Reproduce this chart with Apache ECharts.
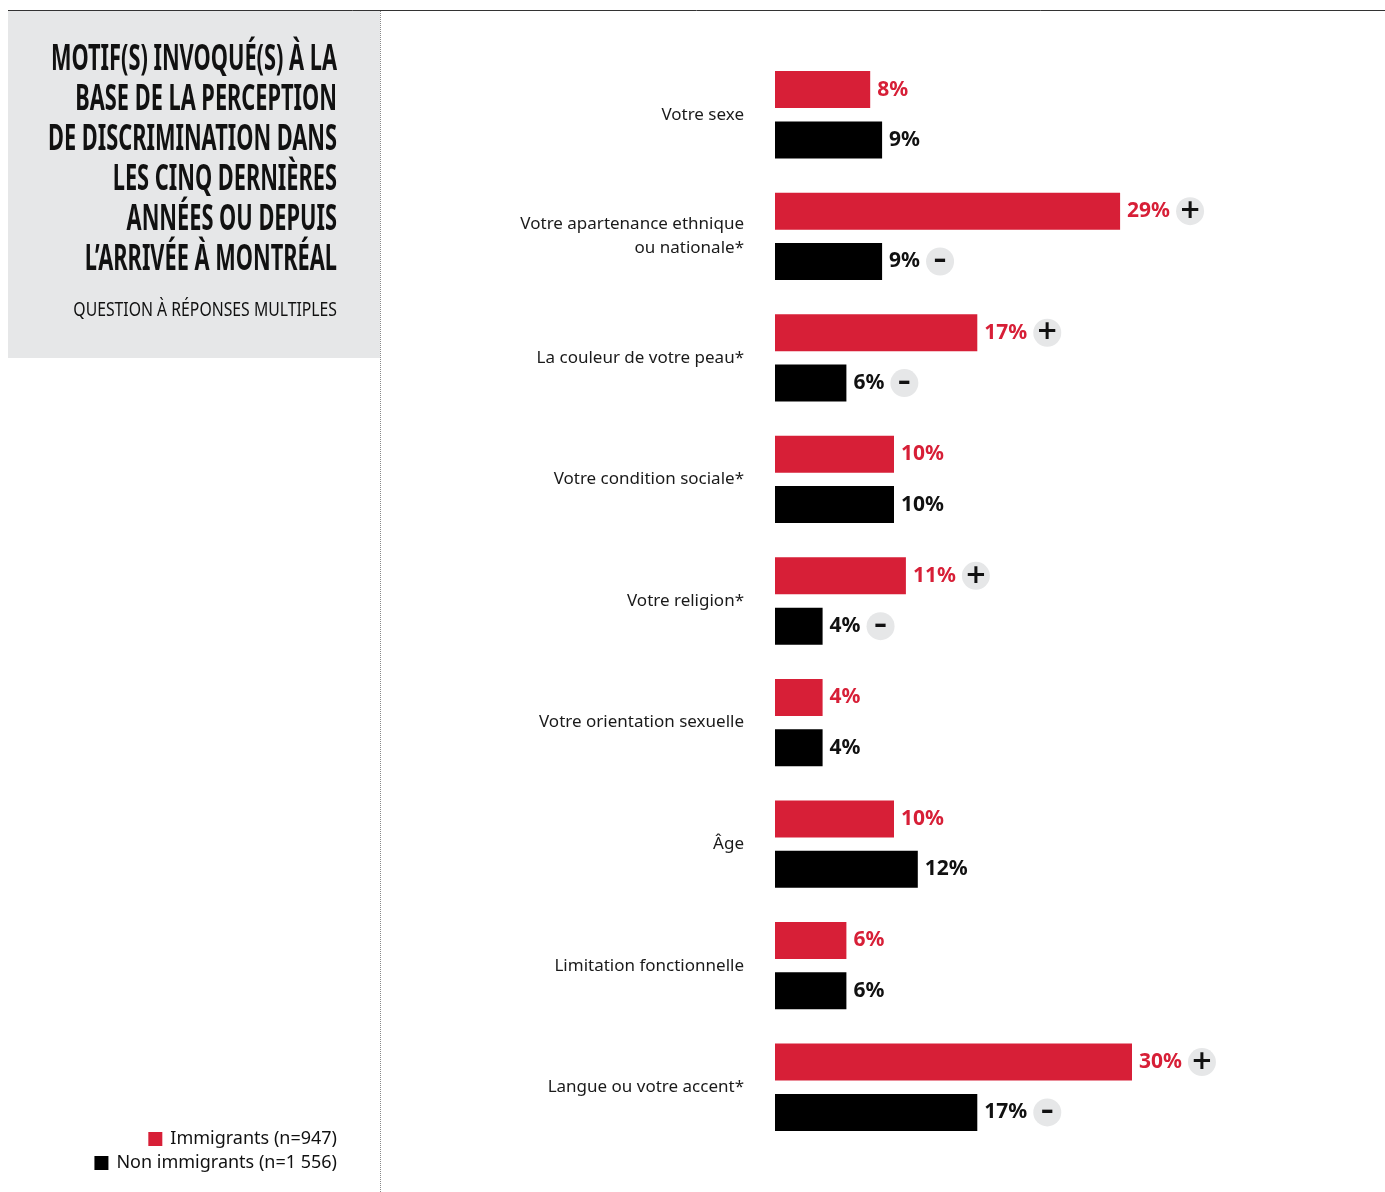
<!DOCTYPE html>
<html>
<head>
<meta charset="utf-8">
<script src="https://cdn.jsdelivr.net/npm/echarts@6/dist/echarts.min.js"></script>
<style>
  html, body { margin: 0; padding: 0; background: #fff; }
  #chart { width: 1385px; height: 1192px; }
</style>
</head>
<body>
<div id="chart"></div>
<script>
var categories = [
    'Votre sexe',
    'Votre apartenance ethnique\nou nationale*',
    'La couleur de votre peau*',
    'Votre condition sociale*',
    'Votre religion*',
    'Votre orientation sexuelle',
    'Âge',
    'Limitation fonctionnelle',
    'Langue ou votre accent*'
];
var immigrants = [8, 29, 17, 10, 11, 4, 10, 6, 30];
var nonImmigrants = [9, 9, 6, 10, 4, 4, 12, 6, 17];
// écart significatif (+ / -)
var immigrantsSig = ['', '+', '+', '', '+', '', '', '', '+'];
var nonImmigrantsSig = ['', '-', '-', '', '-', '', '', '', '-'];

var seriesNames = ['Immigrants (n=947)', 'Non immigrants (n=1 556)'];
var RED = '#d71f37';
var GREY = '#e6e7e8';
var SANS = "'Noto Sans', sans-serif";

var titleLines = [
    'MOTIF(S) INVOQUÉ(S) À LA',
    'BASE DE LA PERCEPTION',
    'DE DISCRIMINATION DANS',
    'LES CINQ DERNIÈRES',
    'ANNÉES OU DEPUIS',
    'L’ARRIVÉE À MONTRÉAL'
];

function makeLabel(color, flags) {
    return {
        show: true,
        position: 'right',
        distance: 7,
        formatter: function (p) {
            var s = '{v|' + p.value + '%}';
            var f = flags[p.dataIndex];
            if (f) {
                s += '{s|}{b|' + (f === '-' ? '–' : '+') + '}';
            }
            return s;
        },
        rich: {
            v: {
                color: color,
                fontFamily: SANS,
                fontWeight: 'bold',
                fontSize: 21
            },
            s: {
                width: 6
            },
            b: {
                backgroundColor: GREY,
                borderRadius: 14,
                width: 28,
                height: 28,
                lineHeight: 28,
                align: 'center',
                color: '#111',
                fontSize: 26,
                fontWeight: 'bold',
                fontFamily: 'DejaVu Sans'
            }
        }
    };
}

var chart = echarts.init(document.getElementById('chart'), null, { renderer: 'canvas' });

var option = {
    animation: false,
    backgroundColor: '#fff',
    grid: {
        left: 775,
        right: 15,
        top: 54,
        bottom: 44
    },
    legend: [
        {
            data: [seriesNames[0]],
            right: 1048,
            top: 1130,
            padding: 0,
            itemWidth: 14,
            itemHeight: 14,
            icon: 'rect',
            textStyle: { fontFamily: SANS, fontSize: 18, color: '#111', padding: [0, 0, 0, 3] }
        },
        {
            data: [seriesNames[1]],
            right: 1048,
            top: 1154,
            padding: 0,
            itemWidth: 14,
            itemHeight: 14,
            icon: 'rect',
            textStyle: { fontFamily: SANS, fontSize: 18, color: '#111', padding: [0, 0, 0, 3] }
        }
    ],
    xAxis: {
        type: 'value',
        min: 0,
        max: 50,
        show: false
    },
    yAxis: {
        type: 'category',
        inverse: true,
        data: categories,
        axisLine: { show: false },
        axisTick: { show: false },
        splitLine: { show: false },
        axisLabel: {
            margin: 31,
            fontFamily: SANS,
            fontSize: 17,
            lineHeight: 24,
            color: '#1a1a1a',
            align: 'right'
        }
    },
    series: [
        {
            name: seriesNames[0],
            type: 'bar',
            data: immigrants,
            barWidth: 37,
            barGap: '36%',
            itemStyle: { color: RED },
            label: makeLabel(RED, immigrantsSig)
        },
        {
            name: seriesNames[1],
            type: 'bar',
            data: nonImmigrants,
            barWidth: 37,
            itemStyle: { color: '#000' },
            label: makeLabel('#111', nonImmigrantsSig)
        }
    ],
    graphic: [
        {
            type: 'rect',
            silent: true,
            z: -10,
            shape: { x: 8, y: 11, width: 372, height: 347 },
            style: { fill: GREY }
        },
        {
            type: 'line',
            silent: true,
            shape: { x1: 8, y1: 10.5, x2: 1385, y2: 10.5 },
            style: { stroke: '#333', lineWidth: 1 }
        },
        {
            type: 'line',
            silent: true,
            shape: { x1: 380.5, y1: 11, x2: 380.5, y2: 1192 },
            style: { stroke: '#888', lineWidth: 1, lineDash: [1, 1] }
        },
        {
            type: 'text',
            silent: true,
            x: 337,
            y: 40,
            scaleX: 0.622,
            style: {
                text: titleLines.join('\n'),
                align: 'right',
                verticalAlign: 'top',
                fontFamily: SANS,
                fontWeight: 'bold',
                fontSize: 35,
                lineHeight: 40,
                fill: '#111'
            }
        },
        {
            type: 'text',
            silent: true,
            x: 337,
            y: 301,
            scaleX: 0.83,
            style: {
                text: 'QUESTION À RÉPONSES MULTIPLES',
                align: 'right',
                verticalAlign: 'top',
                fontFamily: SANS,
                fontSize: 19,
                fill: '#111'
            }
        }
    ]
};

chart.setOption(option);
window.addEventListener('resize', function () {
    chart.resize();
});
</script>
</body>
</html>
